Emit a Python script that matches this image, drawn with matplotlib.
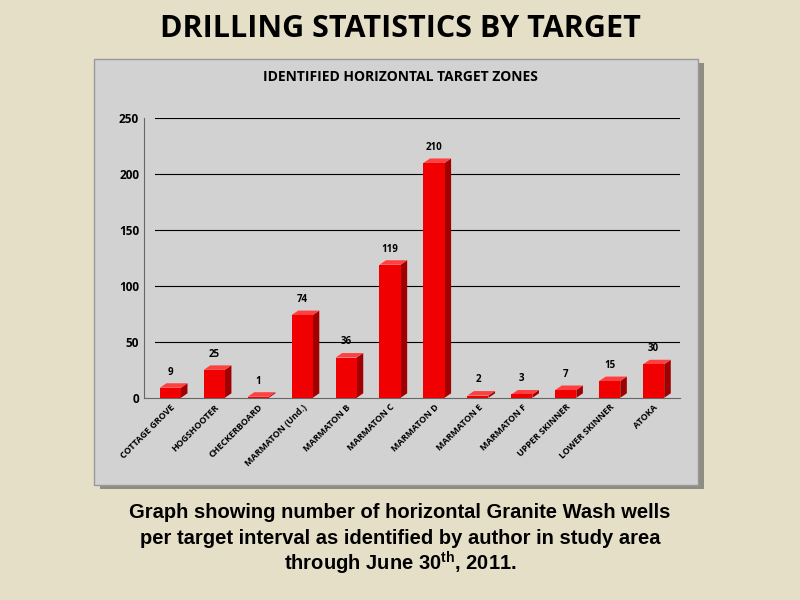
import matplotlib
matplotlib.use("Agg")
import matplotlib.pyplot as plt
from matplotlib.patches import Rectangle, Polygon

categories = ["COTTAGE GROVE", "HOGSHOOTER", "CHECKERBOARD", "MARMATON (Und.)",
              "MARMATON B", "MARMATON C", "MARMATON D", "MARMATON E",
              "MARMATON F", "UPPER SKINNER", "LOWER SKINNER", "ATOKA"]
values = [9, 25, 1, 74, 36, 119, 210, 2, 3, 7, 15, 30]
yticks = [0, 50, 100, 150, 200, 250]

plt.rcParams['mathtext.fontset'] = 'custom'
plt.rcParams['mathtext.rm'] = 'Liberation Sans:bold'
bg = "#E6DFC7"
fig = plt.figure(figsize=(8, 6), dpi=100, facecolor=bg)

# shadow and panel
fig.patches.append(Rectangle((0.125, 0.185), 0.755, 0.71, transform=fig.transFigure,
                             facecolor="#555555", alpha=0.6, zorder=-2))
fig.patches.append(Rectangle((0.118, 0.192), 0.755, 0.71, transform=fig.transFigure,
                             facecolor="#D2D2D2", edgecolor="#999999", zorder=-1))

fig.text(0.5, 0.952, "DRILLING STATISTICS BY TARGET", ha="center", va="center",
         fontsize=22, fontweight="bold", family="Open Sans")
fig.text(0.5, 0.872, "IDENTIFIED HORIZONTAL TARGET ZONES", ha="center", va="center",
         fontsize=10, fontweight="bold", family="Open Sans")

ax = fig.add_axes([0.18, 0.337, 0.67, 0.466])
ax.set_zorder(2)
ax.set_facecolor("none")
n = len(values)
ax.set_xlim(-0.6, n - 0.4)
ax.set_ylim(0, 250)
ax.set_yticks(yticks)
ax.set_yticklabels([str(t) for t in yticks], fontsize=8.5, fontweight="bold", family="Open Sans")
for t in yticks[1:]:
    ax.axhline(t, xmin=0.02, color="black", lw=0.8, zorder=0)
for s in ["top", "right"]:
    ax.spines[s].set_visible(False)
ax.spines["left"].set_color("#666666")
ax.spines["bottom"].set_color("#666666")
ax.tick_params(axis="y", length=0)
ax.tick_params(axis="x", length=0)
ax.set_xticks(range(n))
ax.set_xticklabels(categories, rotation=45, ha="right", rotation_mode="anchor",
                   fontsize=6.5, fontweight="bold", family="Open Sans")

w = 0.48
dx, dy = 0.15, 4
for i, v in enumerate(values):
    x0 = i - w / 2
    ax.add_patch(Polygon([(x0 + w, 0), (x0 + w + dx, dy), (x0 + w + dx, v + dy), (x0 + w, v)],
                         closed=True, facecolor="#A00000", edgecolor="none", zorder=2))
    ax.add_patch(Polygon([(x0, v), (x0 + dx, v + dy), (x0 + w + dx, v + dy), (x0 + w, v)],
                         closed=True, facecolor="#FF4040", edgecolor="none", zorder=2))
    ax.bar(i, v, width=w, color="#F00000", zorder=3)
    ax.text(i, v + dy + 5, str(v), ha="center", va="bottom", fontsize=7, fontweight="bold",
            family="Open Sans")

lines = ["Graph showing number of horizontal Granite Wash wells",
         "per target interval as identified by author in study area",
         r"through June 30$^{\mathrm{th}}$, 2011."]
for k, l in enumerate(lines):
    fig.text(0.5, 0.145 - k * 0.042, l, ha="center", va="center", fontsize=14.5,
             fontweight="bold", family="Liberation Sans")

fig.savefig("out.png", dpi=100, facecolor=bg)
